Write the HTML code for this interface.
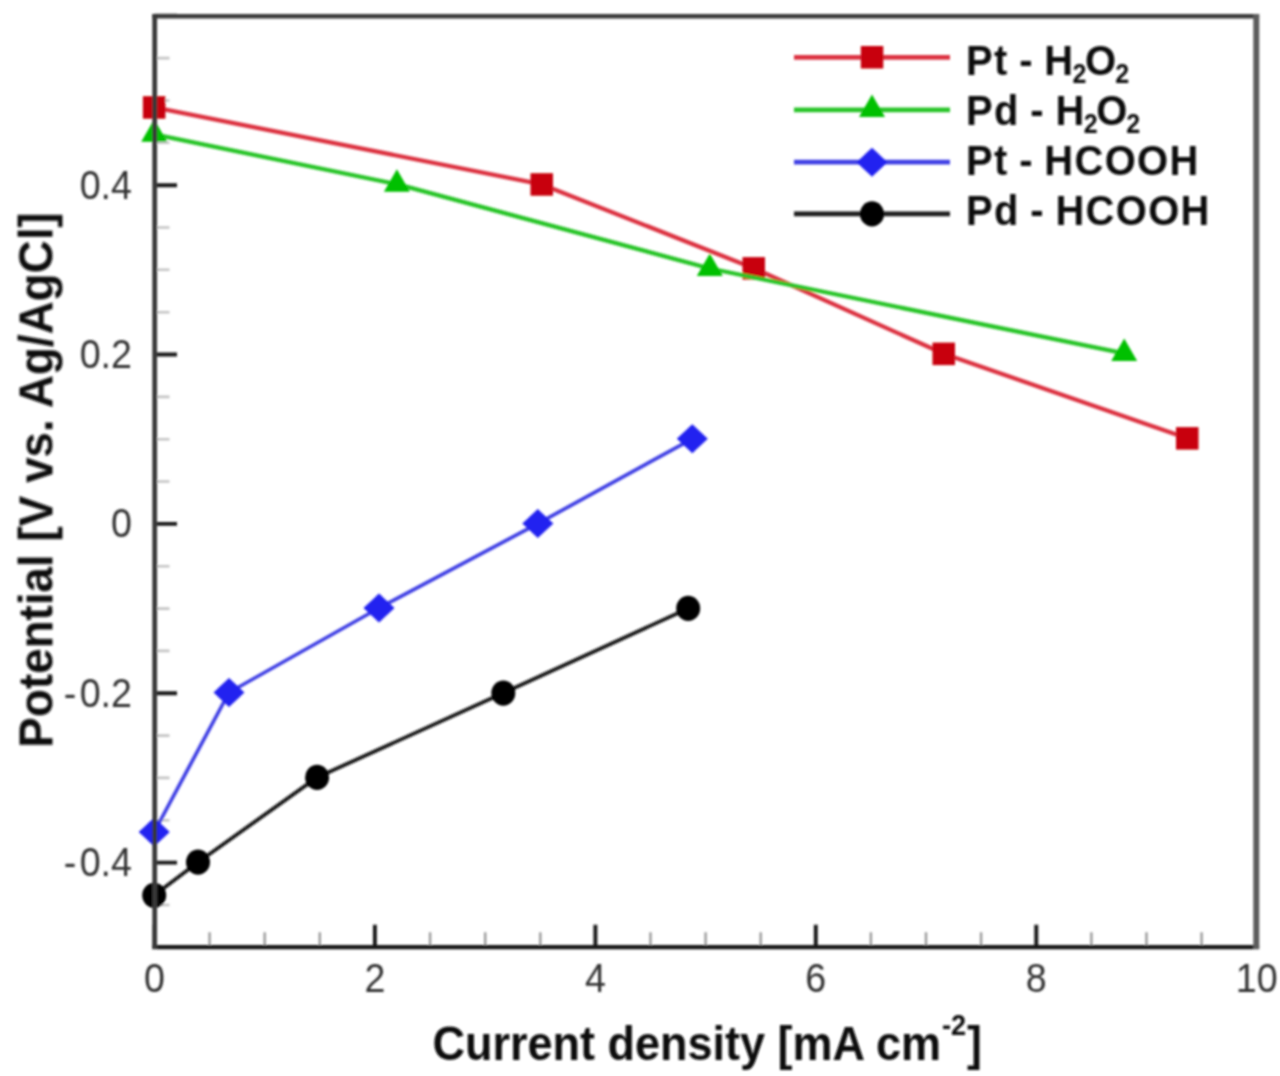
<!DOCTYPE html>
<html><head><meta charset="utf-8">
<style>
html,body{margin:0;padding:0;background:#fff;width:1280px;height:1076px;overflow:hidden}
svg{display:block}
text{font-family:"Liberation Sans",sans-serif}
</style></head>
<body>
<svg width="1280" height="1076" viewBox="0 0 1280 1076">
<defs><filter id="b" filterUnits="userSpaceOnUse" x="0" y="0" width="1280" height="1076"><feGaussianBlur stdDeviation="1.2 0.9"/></filter></defs>
<rect width="1280" height="1076" fill="#fff"/>
<g filter="url(#b)">
<path d="M209.6,947.3V932.3M264.7,947.3V932.3M319.8,947.3V932.3M430.1,947.3V932.3M485.2,947.3V932.3M540.3,947.3V932.3M650.5,947.3V932.3M705.6,947.3V932.3M760.7,947.3V932.3M870.9,947.3V932.3M926.0,947.3V932.3M981.1,947.3V932.3M1091.4,947.3V932.3M1146.5,947.3V932.3M1201.6,947.3V932.3" stroke="#9a9a9a" stroke-width="2.4" fill="none"/>
<path d="M154.5,947.3H169.5M154.5,905.0H169.5M154.5,820.3H169.5M154.5,777.9H169.5M154.5,735.6H169.5M154.5,650.9H169.5M154.5,608.6H169.5M154.5,566.2H169.5M154.5,481.5H169.5M154.5,439.2H169.5M154.5,396.9H169.5M154.5,312.2H169.5M154.5,269.8H169.5M154.5,227.5H169.5M154.5,142.8H169.5M154.5,100.5H169.5M154.5,58.1H169.5" stroke="#c4c4c4" stroke-width="2.6" fill="none"/>
<path d="M154.5,947.3V924.8M374.9,947.3V924.8M595.4,947.3V924.8M815.8,947.3V924.8M1036.3,947.3V924.8M1256.7,947.3V924.8M154.5,862.6H177.0M154.5,693.3H177.0M154.5,523.9H177.0M154.5,354.5H177.0M154.5,185.2H177.0M154.5,15.8H177.0" stroke="#181818" stroke-width="3.9" fill="none"/>
<polyline fill="none" stroke="#dc3040" stroke-width="4.3" stroke-linejoin="round" points="154.2,107.4 541.8,184.4 753.7,268.3 943.8,353.8 1187.2,438.3"/>
<g fill="#c80008"><rect x="142.9" y="96.2" width="22.5" height="22.5"/><rect x="530.5" y="173.2" width="22.5" height="22.5"/><rect x="742.5" y="257.1" width="22.5" height="22.5"/><rect x="932.5" y="342.6" width="22.5" height="22.5"/><rect x="1176.0" y="427.1" width="22.5" height="22.5"/></g>
<polyline fill="none" stroke="#28c428" stroke-width="4.3" stroke-linejoin="round" points="154.2,134.3 396.9,184.2 709.8,268.5 1124.2,353.4"/>
<g fill="#00c000"><polygon points="154.2,119.3 167.2,141.8 141.2,141.8"/><polygon points="396.9,169.2 409.9,191.7 383.9,191.7"/><polygon points="709.8,253.5 722.8,276.0 696.8,276.0"/><polygon points="1124.2,338.4 1137.2,360.9 1111.2,360.9"/></g>
<polyline fill="none" stroke="#4040e4" stroke-width="3.7" stroke-linejoin="round" points="154.2,832.0 229.0,692.5 379.0,608.0 537.8,523.6 692.3,438.8"/>
<g fill="#2020f0"><polygon points="154.2,817.5 169.7,832.0 154.2,846.5 138.7,832.0"/><polygon points="229.0,678.0 244.5,692.5 229.0,707.0 213.5,692.5"/><polygon points="379.0,593.5 394.5,608.0 379.0,622.5 363.5,608.0"/><polygon points="537.8,509.1 553.3,523.6 537.8,538.1 522.3,523.6"/><polygon points="692.3,424.3 707.8,438.8 692.3,453.3 676.8,438.8"/></g>
<polyline fill="none" stroke="#1a1a1a" stroke-width="3.8" stroke-linejoin="round" points="154.2,895.3 198.0,862.2 317.1,777.4 503.3,693.1 688.2,608.4"/>
<g fill="#000"><ellipse cx="154.2" cy="895.3" rx="12" ry="12.6"/><ellipse cx="198.0" cy="862.2" rx="12" ry="12.6"/><ellipse cx="317.1" cy="777.4" rx="12" ry="12.6"/><ellipse cx="503.3" cy="693.1" rx="12" ry="12.6"/><ellipse cx="688.2" cy="608.4" rx="12" ry="12.6"/></g>
<path d="M152.3,16.2H1259.1000000000001" stroke="#3a3a3a" stroke-width="4.4" fill="none"/>
<path d="M152.3,947.2H1259.1000000000001" stroke="#161616" stroke-width="4.2" fill="none"/>
<path d="M154.7,14V949" stroke="#383838" stroke-width="4.8" fill="none"/>
<path d="M1256.3,14V949" stroke="#5c5c5c" stroke-width="6" fill="none"/>
<g transform="translate(154.5,992) scale(0.93,1)"><text x="0" y="0" font-size="40.5" fill="#333" text-anchor="middle">0</text></g>
<g transform="translate(374.9,992) scale(0.93,1)"><text x="0" y="0" font-size="40.5" fill="#333" text-anchor="middle">2</text></g>
<g transform="translate(595.4,992) scale(0.93,1)"><text x="0" y="0" font-size="40.5" fill="#333" text-anchor="middle">4</text></g>
<g transform="translate(815.8,992) scale(0.93,1)"><text x="0" y="0" font-size="40.5" fill="#333" text-anchor="middle">6</text></g>
<g transform="translate(1036.3,992) scale(0.93,1)"><text x="0" y="0" font-size="40.5" fill="#333" text-anchor="middle">8</text></g>
<g transform="translate(1256.7,992) scale(0.93,1)"><text x="0" y="0" font-size="40.5" fill="#333" text-anchor="middle">10</text></g>
<g transform="translate(132,198.5) scale(0.93,1)"><text x="0" y="0" font-size="40.5" fill="#333" text-anchor="end">0.4</text></g>
<g transform="translate(132,367.8) scale(0.93,1)"><text x="0" y="0" font-size="40.5" fill="#333" text-anchor="end">0.2</text></g>
<g transform="translate(132,537.2) scale(0.93,1)"><text x="0" y="0" font-size="40.5" fill="#333" text-anchor="end">0</text></g>
<g transform="translate(132,706.6) scale(0.93,1)"><text x="0" y="0" font-size="40.5" fill="#333" text-anchor="end">-<tspan dx="3.5">0.2</tspan></text></g>
<g transform="translate(132,875.9) scale(0.93,1)"><text x="0" y="0" font-size="40.5" fill="#333" text-anchor="end">-<tspan dx="3.5">0.4</tspan></text></g>
<text font-size="48" font-weight="bold" fill="#111" text-anchor="middle" transform="translate(52.5,480) rotate(-90) scale(0.955,1)">Potential [V vs. Ag/AgCl]</text>
<g transform="translate(432.5,1060) scale(0.938,1)"><text font-size="48" font-weight="bold" fill="#111" x="0" y="0">Current density [mA cm<tspan dx="1" font-size="29" dy="-25.5">-2</tspan><tspan dx="1" dy="25.5">]</tspan></text></g>
<line x1="794" y1="57.3" x2="950" y2="57.3" stroke="#dc3040" stroke-width="4.8"/>
<g fill="#c80008"><rect x="860.8" y="46.0" width="22.5" height="22.5"/></g>
<line x1="794" y1="109.8" x2="950" y2="109.8" stroke="#28c428" stroke-width="4.8"/>
<g fill="#00c000"><polygon points="872.0,94.5 885.0,117.0 859.0,117.0"/></g>
<line x1="794" y1="162.2" x2="950" y2="162.2" stroke="#4040e4" stroke-width="4.8"/>
<g fill="#2020f0"><polygon points="872.0,147.7 887.5,162.2 872.0,176.7 856.5,162.2"/></g>
<line x1="794" y1="213.9" x2="950" y2="213.9" stroke="#1a1a1a" stroke-width="4.8"/>
<g fill="#000"><ellipse cx="872.0" cy="213.9" rx="12" ry="12.6"/></g>
<g transform="translate(966,74.5) scale(0.93,1)"><text x="0" y="0" font-size="43" font-weight="bold" fill="#111" letter-spacing="1.4" word-spacing="-2">Pt - H<tspan font-size="27" dy="8" dx="-2">2</tspan><tspan dy="-8" dx="-3">O</tspan><tspan font-size="27" dy="8" dx="-2.5">2</tspan></text></g>
<g transform="translate(966,125.3) scale(0.93,1)"><text x="0" y="0" font-size="43" font-weight="bold" fill="#111" letter-spacing="1.4" word-spacing="-2">Pd - H<tspan font-size="27" dy="8" dx="-2">2</tspan><tspan dy="-8" dx="-3">O</tspan><tspan font-size="27" dy="8" dx="-2.5">2</tspan></text></g>
<g transform="translate(966,175.4) scale(0.93,1)"><text x="0" y="0" font-size="43" font-weight="bold" fill="#111" letter-spacing="1.4" word-spacing="-2">Pt - HCOOH</text></g>
<g transform="translate(966,225.4) scale(0.93,1)"><text x="0" y="0" font-size="43" font-weight="bold" fill="#111" letter-spacing="1.4" word-spacing="-2">Pd - HCOOH</text></g>
</g>
</svg>
</body></html>
